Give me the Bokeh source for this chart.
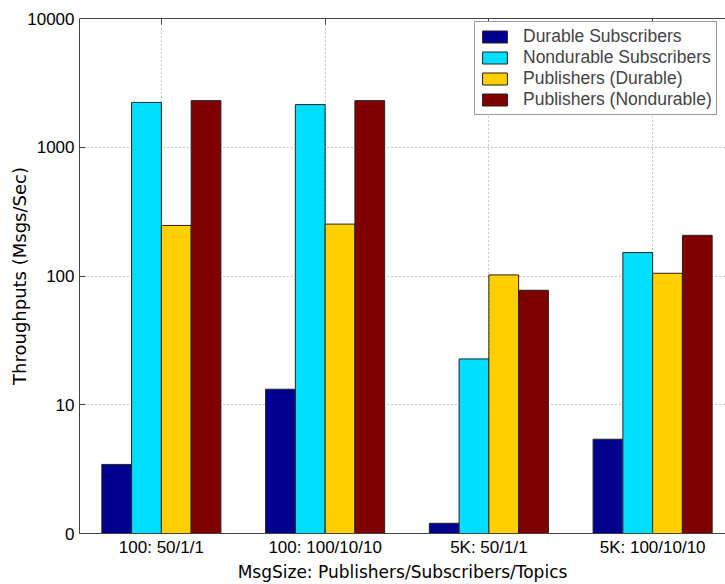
from bokeh.plotting import figure
from bokeh.models import (Range1d, FixedTicker, CustomJSTickFormatter, Legend, LegendItem,
                          LinearAxis, ColumnDataSource)
from bokeh.embed import file_html
from bokeh.resources import INLINE

categories = ["100: 50/1/1", "100: 100/10/10", "5K: 50/1/1", "5K: 100/10/10"]
series_names = ["Durable Subscribers", "Nondurable Subscribers",
                "Publishers (Durable)", "Publishers (Nondurable)"]
durable_subscribers = [3.44, 13.2, 1.2, 5.4]
nondurable_subscribers = [2230, 2145, 22.7, 152]
publishers_durable = [247, 253, 102, 105]
publishers_nondurable = [2302, 2302, 77.5, 207]
y_ticks = [1, 10, 100, 1000, 10000]

series = [durable_subscribers, nondurable_subscribers, publishers_durable, publishers_nondurable]
colors = ["#000090", "#00DFFF", "#FFCF00", "#800000"]

TICK_FONT = "Liberation Sans"
LABEL_FONT = "DejaVu Sans"

p = figure(width=725, height=584, output_backend="svg", toolbar_location=None,
           y_axis_type="log", x_range=Range1d(0.5, 4.445), y_range=Range1d(1, 10000),
           min_border_left=79, min_border_right=0, min_border_top=18, min_border_bottom=50)
p.outline_line_color = None
p.background_fill_color = "white"
p.border_fill_color = "white"

n = len(series)
bw = 0.7272 / n
xs_base = list(range(1, len(categories) + 1))
renderers = []
for i, (vals, col) in enumerate(zip(series, colors)):
    off = (i - (n - 1) / 2) * bw
    src = ColumnDataSource(dict(x=[x + off for x in xs_base], top=vals, bottom=[1] * len(vals)))
    r = p.vbar(x="x", top="top", bottom="bottom", width=bw, source=src,
               fill_color=col, line_color="#222222", line_width=1)
    renderers.append(r)

p.xaxis.ticker = FixedTicker(ticks=xs_base)
p.xaxis.formatter = CustomJSTickFormatter(args=dict(cats=categories),
                                          code="return cats[Math.round(tick) - 1] || '';")
p.yaxis.ticker = FixedTicker(ticks=y_ticks)
p.yaxis.formatter = CustomJSTickFormatter(code="return tick < 5 ? '0' : tick.toFixed(0);")

for ax in (p.xaxis[0], p.yaxis[0]):
    ax.major_label_text_font = TICK_FONT
    ax.major_label_text_font_size = "17px"
    ax.major_label_text_color = "black"
    ax.axis_label_text_font = LABEL_FONT
    ax.axis_label_text_font_style = "normal"
    ax.axis_label_text_color = "black"
    ax.axis_line_color = "#444444"
    ax.major_tick_line_color = "#444444"
    ax.major_tick_in = 6
    ax.major_tick_out = 0
    ax.minor_tick_line_color = None
    ax.major_label_standoff = 5

p.xaxis.axis_label = "MsgSize: Publishers/Subscribers/Topics"
p.xaxis.axis_label_text_font_size = "17px"
p.xaxis.axis_label_standoff = 2
p.xaxis.major_label_standoff = 4
p.yaxis.axis_label = "Throughputs (Msgs/Sec)"
p.yaxis.axis_label_text_font_size = "18px"
p.yaxis.axis_label_standoff = -6

top_axis = LinearAxis(ticker=FixedTicker(ticks=xs_base), major_label_text_font_size="0px",
                      axis_line_color="#444444", major_tick_line_color="#444444",
                      major_tick_in=6, major_tick_out=0, minor_tick_line_color=None,
                      major_label_standoff=0)
top_axis.major_label_text_color = None
p.add_layout(top_axis, "above")

for g in (p.xgrid[0], p.ygrid[0]):
    g.grid_line_color = "#888888"
    g.grid_line_dash = "1 3"
    g.grid_line_width = 1
p.ygrid[0].ticker = FixedTicker(ticks=y_ticks)
p.xgrid[0].ticker = FixedTicker(ticks=xs_base)

legend = Legend(items=[LegendItem(label=nm, renderers=[r]) for nm, r in zip(series_names, renderers)],
                location=(395, 418), orientation="vertical",
                label_text_font=TICK_FONT, label_text_font_size="17.5px",
                glyph_width=31, glyph_height=15, label_standoff=13,
                label_height=20, spacing=0, padding=4,
                border_line_color="#333333", border_line_width=1,
                background_fill_color="white", background_fill_alpha=1.0)
p.add_layout(legend)

open("out.html", "w").write(file_html(p, INLINE))
